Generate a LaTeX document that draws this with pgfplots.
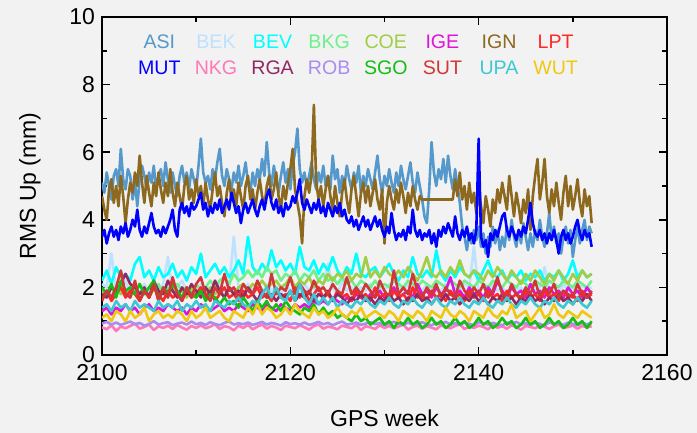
\documentclass[border=0pt]{standalone}
\usepackage{pgfplots}
\pgfplotsset{compat=1.18}
\usepackage{pgfplotstable}
\usepackage{fontspec}
\setmainfont{Liberation Sans}
\definecolor{bg}{RGB}{242,242,242}
\definecolor{cASI}{RGB}{85,153,204}
\definecolor{cBEK}{RGB}{190,225,255}
\definecolor{cBEV}{RGB}{0,255,255}
\definecolor{cBKG}{RGB}{110,240,140}
\definecolor{cCOE}{RGB}{160,205,70}
\definecolor{cIGE}{RGB}{220,20,220}
\definecolor{cIGN}{RGB}{140,105,30}
\definecolor{cLPT}{RGB}{255,40,40}
\definecolor{cMUT}{RGB}{0,0,255}
\definecolor{cNKG}{RGB}{255,120,185}
\definecolor{cRGA}{RGB}{145,40,100}
\definecolor{cROB}{RGB}{170,140,240}
\definecolor{cSGO}{RGB}{20,190,20}
\definecolor{cSUT}{RGB}{210,55,55}
\definecolor{cUPA}{RGB}{60,200,210}
\definecolor{cWUT}{RGB}{240,200,20}
\pgfplotstableread{
x ASI IGN MUT
2100.00 5.1 4.7 3.5
2100.25 4.8 4.3 3.7
2100.50 5.4 4.0 3.3
2100.75 5.0 4.9 3.6
2101.00 4.6 5.2 3.8
2101.25 5.3 4.5 3.5
2101.50 5.5 5.0 3.7
2101.75 5.0 4.4 3.4
2102.00 6.1 5.3 3.8
2102.25 5.2 4.7 3.6
2102.50 4.9 3.9 3.9
2102.75 5.5 4.6 3.5
2103.00 5.3 5.1 3.7
2103.25 4.6 4.8 4.0
2103.50 5.1 5.4 3.8
2103.75 4.4 5.0 4.3
2104.00 5.2 5.9 3.7
2104.25 5.6 5.1 3.5
2104.50 5.3 4.5 3.8
2104.75 4.9 5.3 3.6
2105.00 5.4 4.8 3.9
2105.25 5.1 4.4 4.2
2105.50 5.6 5.1 3.8
2105.75 4.9 4.7 3.6
2106.00 5.3 5.4 3.7
2106.25 5.5 4.9 3.5
2106.50 5.0 4.5 3.8
2106.75 5.7 5.1 3.6
2107.00 5.2 4.7 3.8
2107.25 4.8 5.5 4.0
2107.50 5.4 4.8 4.3
2107.75 5.0 4.4 3.7
2108.00 4.7 5.1 3.5
2108.25 5.3 4.7 4.3
2108.50 5.6 4.3 4.5
2108.75 5.1 5.0 4.2
2109.00 5.4 5.3 4.4
2109.25 4.9 4.6 4.1
2109.50 5.5 4.9 4.5
2109.75 5.2 4.5 4.3
2110.00 4.9 5.2 4.4
2110.25 5.6 4.7 4.6
2110.50 6.4 5.0 4.8
2110.75 5.4 4.4 4.3
2111.00 5.1 5.1 4.5
2111.25 5.3 4.6 4.1
2111.50 4.9 4.3 4.4
2111.75 5.5 4.9 4.2
2112.00 5.2 5.4 4.5
2112.25 5.7 4.7 4.3
2112.50 6.1 5.0 4.6
2112.75 5.3 4.5 4.2
2113.00 5.0 4.1 4.4
2113.25 5.5 4.8 4.6
2113.50 5.2 5.2 4.3
2113.75 4.9 4.6 4.8
2114.00 5.4 4.9 4.5
2114.25 5.1 4.4 4.2
2114.50 5.6 5.1 4.4
2114.75 5.0 4.7 3.9
2115.00 5.3 4.3 4.3
2115.25 5.7 5.0 4.5
2115.50 5.1 5.3 4.2
2115.75 4.8 4.6 4.4
2116.00 5.4 4.9 4.6
2116.25 5.0 4.3 4.3
2116.50 5.5 4.8 4.1
2116.75 5.2 5.2 4.4
2117.00 5.8 4.7 4.6
2117.25 5.3 4.4 4.3
2117.50 6.3 5.0 4.7
2117.75 5.4 5.3 4.9
2118.00 5.0 4.6 4.5
2118.25 5.6 4.9 4.3
2118.50 5.2 5.4 4.6
2118.75 4.8 4.7 4.2
2119.00 5.3 4.3 4.4
2119.25 5.7 5.0 4.1
2119.50 5.1 4.6 4.5
2119.75 5.5 5.1 4.3
2120.00 4.9 5.5 4.4
2120.25 5.6 6.1 4.7
2120.50 6.0 4.9 4.5
2120.75 6.7 4.5 4.8
2121.00 5.5 4.1 5.2
2121.25 5.1 3.3 4.5
2121.50 5.4 4.7 4.3
2121.75 5.0 5.2 4.6
2122.00 5.3 4.8 4.4
2122.25 5.7 5.3 4.2
2122.50 5.2 7.4 4.5
2122.75 4.9 5.1 4.3
2123.00 5.4 4.6 4.6
2123.25 5.1 5.0 4.2
2123.50 5.6 4.4 4.4
2123.75 5.0 4.9 4.1
2124.00 5.3 5.3 4.5
2124.25 4.9 4.7 4.3
2124.50 5.9 4.3 4.1
2124.75 5.2 5.0 4.4
2125.00 5.5 4.5 4.2
2125.25 4.8 4.1 4.5
2125.50 5.3 4.8 4.1
2125.75 5.0 5.2 4.3
2126.00 5.6 4.6 4.0
2126.25 5.2 4.2 3.9
2126.50 4.9 4.9 4.1
2126.75 5.4 5.3 3.8
2127.00 5.1 4.7 4.0
2127.25 5.6 4.1 3.7
2127.50 4.8 4.8 3.9
2127.75 5.3 5.1 4.1
2128.00 5.0 4.5 3.8
2128.25 5.5 5.0 4.0
2128.50 5.2 4.4 3.7
2128.75 4.9 4.8 3.9
2129.00 5.4 5.2 4.1
2129.25 5.9 4.6 3.8
2129.50 5.2 4.3 4.0
2129.75 4.8 4.9 3.7
2130.00 5.3 3.3 3.5
2130.25 5.0 4.5 3.8
2130.50 5.5 5.0 3.6
2130.75 5.1 4.6 4.2
2131.00 4.8 4.3 3.7
2131.25 5.4 4.9 3.4
2131.50 5.0 4.5 3.6
2131.75 5.6 5.1 3.5
2132.00 5.2 4.7 3.7
2132.25 4.9 4.2 3.4
2132.50 5.3 4.8 3.8
2132.75 5.7 4.4 3.6
2133.00 5.1 5.0 4.3
2133.25 4.8 4.6 3.7
2133.50 5.4 4.3 3.5
2133.75 5.0 4.7 3.7
2134.00 4.6 4.6 3.4
2134.25 4.1 4.6 3.6
2134.50 3.9 4.6 3.5
2134.75 4.9 4.6 3.7
2135.00 6.3 4.6 3.3
2135.25 5.4 4.6 3.6
2135.50 5.0 4.6 3.2
2135.75 5.5 4.6 3.7
2136.00 5.2 4.6 3.5
2136.25 5.8 4.6 3.8
2136.50 5.1 4.6 3.6
2136.75 5.9 4.6 3.9
2137.00 5.3 4.6 3.7
2137.25 4.9 4.6 3.5
2137.50 5.5 5.2 4.1
2137.75 5.0 4.7 3.6
2138.00 4.5 5.4 3.4
2138.25 3.8 4.6 3.7
2138.50 3.5 5.0 3.5
2138.75 3.1 4.3 3.8
2139.00 3.6 5.1 3.4
2139.25 3.3 4.5 3.6
2139.50 3.7 4.8 3.3
2139.75 3.4 4.2 3.7
2140.00 3.8 5.0 6.4
2140.25 3.2 4.4 3.5
2140.50 3.6 3.9 3.2
2140.75 3.0 4.7 3.4
2141.00 3.5 4.3 2.9
2141.25 3.2 3.8 3.6
2141.50 3.8 4.6 3.4
2141.75 3.3 4.2 3.7
2142.00 3.7 4.9 3.5
2142.25 3.1 4.5 3.8
2142.50 3.5 5.1 4.1
2142.75 3.2 4.7 4.2
2143.00 3.8 4.3 3.7
2143.25 3.4 5.3 3.5
2143.50 4.0 4.7 3.8
2143.75 3.5 4.1 3.6
2144.00 3.2 4.8 3.4
2144.25 3.7 4.4 3.7
2144.50 3.3 3.9 3.5
2144.75 3.9 4.6 3.8
2145.00 3.5 4.2 3.6
2145.25 3.1 4.9 4.0
2145.50 3.6 3.7 4.5
2145.75 3.2 4.7 3.9
2146.00 3.7 5.3 3.6
2146.25 3.4 5.8 3.5
2146.50 4.0 4.6 3.7
2146.75 3.5 5.1 3.4
2147.00 3.2 5.8 3.6
2147.25 3.6 4.7 3.3
2147.50 4.2 4.2 3.6
2147.75 3.4 4.9 3.4
2148.00 3.8 4.4 3.7
2148.25 3.3 5.1 3.4
2148.50 3.6 4.5 3.0
2148.75 3.0 4.0 3.5
2149.00 3.5 4.8 3.7
2149.25 3.8 5.3 3.4
2149.50 3.3 4.4 3.6
2149.75 3.7 5.0 3.3
2150.00 2.9 4.3 3.5
2150.25 3.4 4.7 3.8
2150.50 3.8 5.2 4.0
2150.75 3.3 4.5 3.6
2151.00 3.7 4.1 3.4
2151.25 4.0 4.9 3.7
2151.50 3.4 4.4 3.5
2151.75 3.8 4.7 3.6
2152.00 3.6 3.9 3.2
}\top
\pgfplotstableread{
x BEK BEV BKG COE IGE LPT NKG RGA ROB SGO SUT UPA WUT
2100.0 2.1 2.2 1.9 1.8 1.3 1.7 0.82 1.8 0.93 2.0 1.6 1.4 1.1
2100.5 2.0 2.5 1.8 1.9 1.4 1.9 0.76 1.7 0.98 1.8 1.9 1.5 1.2
2101.0 3.0 2.1 2.0 1.7 1.2 1.6 0.88 2.0 0.90 2.1 1.7 1.3 1.0
2101.5 1.9 2.6 1.9 2.0 1.4 1.8 0.71 1.9 0.96 1.7 2.0 1.6 1.3
2102.0 2.0 2.3 2.1 1.8 1.3 2.0 0.84 2.1 0.89 2.2 2.5 1.4 1.2
2102.5 2.2 2.4 1.8 1.9 1.5 1.7 0.79 2.4 0.94 1.9 1.8 1.5 1.0
2103.0 1.8 2.2 2.0 1.7 1.3 1.9 0.86 2.1 0.99 2.0 1.7 1.3 1.3
2103.5 2.0 2.7 1.9 2.0 1.4 1.8 0.93 2.0 0.91 1.8 2.2 1.6 1.1
2104.0 1.9 2.9 2.1 1.8 1.2 1.6 0.78 1.8 0.95 2.1 1.6 1.4 1.2
2104.5 2.1 2.3 1.8 1.9 1.4 1.9 0.83 2.0 0.87 1.8 1.9 1.5 1.4
2105.0 1.8 2.5 2.0 1.7 1.5 1.7 0.90 1.7 0.92 2.0 1.7 1.4 1.0
2105.5 2.0 2.2 1.9 2.0 1.3 2.0 0.74 2.2 1.00 2.2 2.1 1.3 1.2
2106.0 1.9 2.6 2.1 1.8 1.4 1.8 0.85 1.9 0.90 1.6 1.6 1.6 1.3
2106.5 2.1 2.3 1.8 1.9 1.3 1.6 0.80 1.8 0.94 2.0 2.0 1.4 1.1
2107.0 2.9 2.4 2.0 1.7 1.5 1.9 0.87 2.2 0.97 1.8 1.7 1.5 1.2
2107.5 1.9 2.7 1.9 2.0 1.4 1.7 0.77 1.9 0.88 2.1 2.3 1.4 1.1
2108.0 2.0 2.3 2.1 1.8 1.3 1.8 0.89 1.7 0.93 1.9 1.8 1.6 1.3
2108.5 2.2 2.5 1.9 1.9 1.4 1.6 0.81 2.0 0.96 1.7 1.6 1.3 1.2
2109.0 1.9 2.2 2.0 1.7 1.2 1.9 0.75 1.8 0.90 2.0 2.0 1.5 1.0
2109.5 2.0 2.6 1.8 2.0 1.4 1.7 0.86 2.1 0.99 1.8 1.7 1.4 1.3
2110.0 1.8 2.4 2.1 1.8 1.3 1.8 0.80 1.9 0.91 1.7 2.1 1.6 1.1
2110.5 2.1 3.0 1.9 1.9 1.5 2.0 0.88 1.7 0.95 1.9 2.3 1.4 1.2
2111.0 1.9 2.3 2.0 1.7 1.4 1.7 0.79 2.0 0.89 1.6 1.8 1.5 1.4
2111.5 2.0 2.5 2.2 2.0 1.3 1.9 0.84 1.8 0.97 1.8 1.6 1.3 1.1
2112.0 1.9 2.7 2.0 1.8 1.4 1.6 0.91 2.2 0.92 1.7 2.0 1.6 1.2
2112.5 2.1 2.4 2.2 1.9 1.5 1.8 0.77 1.9 0.88 1.5 1.8 1.5 1.3
2113.0 1.8 2.6 2.3 1.7 1.3 2.0 0.85 1.7 0.95 1.7 2.4 1.4 1.1
2113.5 2.0 2.3 2.1 2.0 1.4 1.7 0.82 2.0 0.99 1.5 1.9 1.6 1.0
2114.0 3.5 2.5 2.4 1.8 1.3 1.8 0.73 1.8 0.90 1.6 2.0 1.5 1.3
2114.5 2.0 2.8 2.2 2.0 1.5 1.6 0.87 1.9 0.94 1.4 1.7 1.7 1.2
2115.0 1.8 2.4 2.3 2.1 1.4 1.9 0.80 1.7 0.91 1.7 2.1 1.5 1.1
2115.5 2.1 3.5 2.5 1.9 1.3 1.7 0.89 2.0 0.96 1.5 1.9 1.4 1.4
2116.0 1.9 2.6 2.3 2.1 1.5 1.8 0.76 1.8 0.89 1.3 1.8 1.6 1.2
2116.5 2.0 2.4 2.5 2.0 1.4 2.0 0.84 1.6 0.93 1.6 2.2 1.5 1.5
2117.0 1.8 2.7 2.3 2.2 1.3 1.7 0.90 1.9 0.98 1.4 1.9 1.8 1.2
2117.5 2.1 2.5 2.6 2.0 1.5 1.8 0.78 1.7 0.90 1.6 1.7 2.0 1.4
2118.0 1.9 3.1 2.4 2.1 1.4 1.6 0.86 1.8 0.95 1.3 2.4 1.7 1.3
2118.5 2.0 2.6 2.5 2.2 1.3 1.9 0.81 1.6 0.92 1.5 1.8 2.0 1.1
2119.0 1.8 2.8 2.2 2.0 1.5 1.7 0.74 1.8 0.87 1.3 2.0 1.7 1.2
2119.5 2.1 2.5 2.4 2.1 1.4 1.8 0.87 1.7 0.97 1.6 1.9 1.6 1.4
2120.0 1.9 2.7 2.3 2.3 1.3 1.6 0.83 1.9 0.91 1.4 2.3 1.9 1.2
2120.5 2.0 2.4 2.5 2.0 1.5 2.0 0.79 1.6 0.94 1.3 1.8 1.6 1.5
2121.0 1.8 3.2 2.2 2.2 1.4 1.7 0.88 1.8 0.90 1.2 2.1 2.1 1.3
2121.5 2.1 2.6 2.4 2.1 1.5 1.9 0.82 1.7 0.96 1.4 1.9 1.7 1.2
2122.0 1.9 2.5 2.3 2.3 1.4 1.6 0.75 1.9 0.89 1.3 1.8 1.5 1.1
2122.5 2.0 2.8 2.5 2.0 1.6 1.8 0.86 1.6 0.93 1.5 2.2 1.8 1.4
2123.0 1.8 2.4 2.2 2.2 1.5 2.0 0.90 1.8 0.98 1.2 1.9 1.5 1.2
2123.5 2.1 2.7 2.4 2.1 1.6 1.7 0.78 1.7 0.91 1.4 2.0 1.7 1.3
2124.0 2.7 2.5 2.2 2.4 1.5 1.8 0.84 1.9 0.95 1.2 1.8 1.5 1.1
2124.5 2.0 2.9 2.3 2.2 1.7 1.6 0.81 1.6 0.88 1.3 2.1 1.7 1.2
2125.0 1.8 2.5 2.1 2.4 1.6 1.9 0.76 1.8 0.94 1.1 1.9 1.4 1.4
2125.5 2.2 2.3 2.3 2.3 1.5 1.7 0.87 1.7 0.99 1.2 1.8 1.6 1.2
2126.0 1.9 2.6 2.1 2.5 1.7 1.8 0.83 1.5 0.90 1.1 2.3 1.5 1.1
2126.5 2.0 2.4 2.2 2.2 1.6 1.6 0.79 1.7 0.92 1.0 1.8 1.4 1.3
2127.0 1.8 3.0 2.0 2.4 1.8 1.9 0.89 1.6 0.96 1.2 2.0 1.6 1.2
2127.5 2.0 2.4 2.2 2.3 1.7 1.7 0.74 1.8 0.89 1.0 1.8 1.5 1.4
2128.0 1.9 2.3 2.1 2.9 1.6 1.8 0.85 1.6 0.93 1.1 2.1 1.7 1.1
2128.5 2.1 2.5 2.0 2.3 1.8 1.6 0.82 1.7 0.97 0.9 1.9 1.5 1.2
2129.0 1.8 2.6 2.2 2.5 1.7 2.0 0.77 1.5 0.91 1.0 1.7 1.4 1.3
2129.5 2.0 2.3 2.0 2.3 1.9 1.7 0.88 1.7 0.95 1.1 2.2 1.6 1.2
2130.0 1.9 2.5 2.1 2.6 1.7 1.8 0.80 1.6 0.88 0.9 1.9 1.5 1.1
2130.5 2.1 2.7 2.0 2.4 1.8 1.6 0.86 1.8 0.94 1.0 1.7 1.7 1.3
2131.0 1.8 2.4 2.2 2.3 2.0 1.9 0.79 1.6 0.98 0.8 2.5 1.5 1.2
2131.5 2.0 2.2 2.1 2.5 1.7 1.7 0.84 1.7 0.92 1.0 1.8 1.4 1.0
2132.0 1.9 2.5 2.0 2.3 1.8 1.8 0.90 1.5 0.89 0.9 2.0 1.6 1.3
2132.5 2.1 2.3 2.2 2.6 1.9 1.6 0.75 1.7 0.96 1.1 1.8 1.5 1.2
2133.0 1.8 2.9 2.1 2.4 1.7 2.0 0.83 1.6 0.90 0.9 2.4 1.7 1.1
2133.5 2.0 2.4 2.0 2.2 2.1 1.7 0.87 1.8 0.93 1.0 1.9 1.5 1.3
2134.0 1.9 2.3 2.2 2.5 1.8 1.8 0.78 1.6 0.97 0.8 1.7 1.4 1.2
2134.5 2.1 2.5 2.1 2.9 1.9 1.6 0.85 1.7 0.91 0.9 2.0 1.6 1.0
2135.0 1.8 2.3 2.0 2.4 1.7 1.9 0.81 1.5 0.88 1.1 1.8 1.5 1.3
2135.5 2.0 3.1 2.2 2.3 2.0 1.7 0.76 1.7 0.95 0.9 2.1 1.7 1.2
2136.0 1.9 2.4 2.1 2.5 1.8 1.8 0.88 1.6 0.92 1.0 1.7 1.5 1.1
2136.5 2.1 2.2 2.0 2.3 1.9 1.6 0.82 1.8 0.98 0.8 2.0 1.4 1.4
2137.0 1.8 2.5 2.2 2.6 2.3 1.9 0.79 1.6 0.90 0.9 1.8 1.6 1.2
2137.5 2.0 2.3 2.1 2.4 1.8 1.7 0.86 1.7 0.94 1.1 1.7 1.5 1.1
2138.0 1.9 2.6 2.0 2.8 1.9 1.8 0.91 1.5 0.89 0.9 2.2 1.7 1.3
2138.5 2.1 2.4 2.2 2.4 1.7 1.6 0.77 1.7 0.96 1.0 1.9 1.5 1.2
2139.0 2.0 2.3 2.1 2.3 2.0 1.9 0.84 1.6 0.92 0.8 1.7 1.4 1.0
2139.5 3.2 2.5 2.0 2.5 1.8 1.7 0.80 1.8 0.88 0.9 2.0 1.6 1.3
2140.0 1.9 2.2 2.2 2.4 1.9 1.8 0.87 1.6 0.97 1.1 1.8 1.5 1.2
2140.5 2.0 2.5 2.1 2.2 1.7 1.6 0.83 1.7 0.93 0.9 2.1 1.7 1.1
2141.0 1.8 2.8 2.0 2.5 2.0 1.9 0.76 1.5 0.90 1.0 1.7 1.5 1.4
2141.5 2.1 2.4 2.2 2.3 1.8 1.7 0.89 1.7 0.95 0.8 1.9 1.4 1.2
2142.0 1.9 2.3 2.1 2.6 2.2 1.8 0.81 1.6 0.91 0.9 2.3 1.6 1.1
2142.5 2.0 2.5 2.0 2.4 1.9 1.6 0.85 1.8 0.88 1.1 1.8 1.5 1.3
2143.0 1.8 2.2 2.2 2.2 1.7 1.9 0.78 1.6 0.96 0.9 1.7 1.7 1.2
2143.5 2.1 2.4 2.1 2.5 2.0 1.7 0.88 1.7 0.92 1.0 2.1 1.5 1.5
2144.0 1.9 2.3 2.0 2.3 1.8 1.8 0.82 1.5 0.98 0.8 1.8 1.4 1.1
2144.5 2.0 2.5 2.2 2.1 1.9 1.6 0.75 1.7 0.90 0.9 1.7 1.6 1.2
2145.0 1.8 2.2 2.1 2.4 1.7 1.9 0.86 1.6 0.94 1.1 2.0 1.5 1.3
2145.5 2.1 2.4 2.0 2.2 2.1 1.7 0.83 1.8 0.89 0.9 1.8 1.7 1.0
2146.0 1.9 2.3 2.2 2.5 1.8 1.8 0.79 1.6 0.95 1.0 2.2 1.5 1.2
2146.5 2.0 2.5 2.1 2.3 1.9 1.6 0.88 1.7 0.92 0.8 1.7 1.4 1.4
2147.0 2.6 2.2 2.0 2.1 1.7 1.9 0.84 1.5 0.87 0.9 2.0 1.6 1.1
2147.5 1.9 2.4 2.2 2.4 2.0 1.7 0.77 1.7 0.97 1.1 1.8 1.5 1.2
2148.0 2.0 2.3 2.1 2.2 1.8 1.8 0.85 1.6 0.91 0.9 2.1 1.7 1.5
2148.5 1.8 2.5 2.0 2.5 1.9 1.6 0.90 1.8 0.94 1.0 1.7 1.5 1.2
2149.0 2.1 2.2 2.2 2.3 1.7 1.9 0.80 1.6 0.89 0.8 1.9 1.4 1.1
2149.5 1.9 2.4 2.1 2.1 2.0 1.7 0.83 1.7 0.96 0.9 1.8 1.6 1.3
2150.0 2.0 2.8 2.0 2.4 1.8 1.8 0.87 1.5 0.92 1.1 1.7 1.5 1.2
2150.5 1.8 2.3 2.2 2.2 1.9 1.6 0.78 1.7 0.88 0.9 2.1 1.7 1.1
2151.0 2.1 2.5 2.1 2.5 1.7 1.9 0.86 1.6 0.95 1.0 1.8 1.5 1.3
2151.5 1.9 2.3 2.0 2.3 2.0 1.7 0.82 1.8 0.91 0.8 1.7 1.4 1.2
2152.0 2.0 2.4 2.2 2.4 1.8 1.8 0.85 1.6 0.94 1.0 1.9 1.6 1.1
}\low
\begin{document}
\begin{tikzpicture}
\fill[bg] (-51pt,-39pt) rectangle (297.5pt,177.5pt);
\begin{axis}[
  at={(0,0)}, anchor=south west, scale only axis,
  width=282.5pt, height=169pt,
  xmin=2100, xmax=2160, ymin=0, ymax=10,
  xtick={2100,2120,2140,2160}, ytick={0,2,4,6,8,10},
  minor xtick={2110,2130,2150}, minor ytick={1,3,5,7,9},
  tick align=inside,
  major tick length=4pt, minor tick length=2.5pt,
  every tick/.style={black, line width=0.8pt},
  axis line style={black, line width=1pt},
  /pgf/number format/assume math mode=true,
  /pgf/number format/1000 sep={},
  tick label style={font=\fontsize{11.5}{13}\selectfont},
  xticklabel style={yshift=-1pt},
  xlabel={GPS week}, ylabel={RMS Up (mm)},
  every axis x label/.style={at={(axis description cs:0.5,0)}, anchor=center, yshift=-31.5pt, font=\fontsize{11.5}{13}\selectfont},
  every axis y label/.style={at={(axis description cs:0,0.5)}, anchor=center, xshift=-36pt, rotate=90, font=\fontsize{11.5}{13}\selectfont},
  axis background/.style={fill=bg},
  legend columns=8,
  legend image code/.code={},
  legend style={draw=none, fill=none, at={(axis description cs:0.4522,0.8817)}, anchor=center,
    column sep=0pt, row sep=4pt,
    nodes={text width=28.3pt, align=center, inner sep=0pt, text height=7pt, text depth=2pt, font=\fontsize{9.8}{11}\selectfont}},
  every axis plot/.append style={line width=1.3pt, line join=round},
]
\addplot[cASI] table[x=x,y=ASI]{\top}; \addlegendentry{\textcolor{cASI}{ASI}}
\addplot[cBEK] table[x=x,y=BEK]{\low}; \addlegendentry{\textcolor{cBEK}{BEK}}
\addplot[cBEV] table[x=x,y=BEV]{\low}; \addlegendentry{\textcolor{cBEV}{BEV}}
\addplot[cBKG] table[x=x,y=BKG]{\low}; \addlegendentry{\textcolor{cBKG}{BKG}}
\addplot[cCOE] table[x=x,y=COE]{\low}; \addlegendentry{\textcolor{cCOE}{COE}}
\addplot[cIGE] table[x=x,y=IGE]{\low}; \addlegendentry{\textcolor{cIGE}{IGE}}
\addplot[cIGN] table[x=x,y=IGN]{\top}; \addlegendentry{\textcolor{cIGN}{IGN}}
\addplot[cLPT] table[x=x,y=LPT]{\low}; \addlegendentry{\textcolor{cLPT}{LPT}}
\addplot[cMUT] table[x=x,y=MUT]{\top}; \addlegendentry{\textcolor{cMUT}{MUT}}
\addplot[cNKG] table[x=x,y=NKG]{\low}; \addlegendentry{\textcolor{cNKG}{NKG}}
\addplot[cRGA] table[x=x,y=RGA]{\low}; \addlegendentry{\textcolor{cRGA}{RGA}}
\addplot[cROB] table[x=x,y=ROB]{\low}; \addlegendentry{\textcolor{cROB}{ROB}}
\addplot[cSGO] table[x=x,y=SGO]{\low}; \addlegendentry{\textcolor{cSGO}{SGO}}
\addplot[cSUT] table[x=x,y=SUT]{\low}; \addlegendentry{\textcolor{cSUT}{SUT}}
\addplot[cUPA] table[x=x,y=UPA]{\low}; \addlegendentry{\textcolor{cUPA}{UPA}}
\addplot[cWUT] table[x=x,y=WUT]{\low}; \addlegendentry{\textcolor{cWUT}{WUT}}
\end{axis}
\pgfresetboundingbox
\path (-51pt,-39pt) rectangle (297.5pt,177.5pt);
\end{tikzpicture}
\end{document}
